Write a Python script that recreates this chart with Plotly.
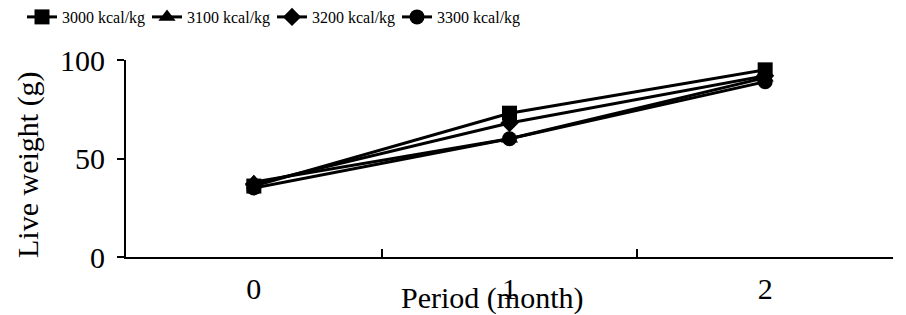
import plotly.graph_objects as go

periods = ["0", "1", "2"]
series_names = ["3000 kcal/kg", "3100 kcal/kg", "3200 kcal/kg", "3300 kcal/kg"]
v3000 = [36, 73, 95]
v3100 = [38, 60, 91]
v3200 = [37, 68, 92]
v3300 = [35, 60, 89]
y_ticks = [0, 50, 100]

symbols = ["square", "triangle-up", "diamond", "circle"]
sizes = [15, 15, 14, 15]
values = [v3000, v3100, v3200, v3300]

FONT = "Liberation Serif, Times New Roman, serif"

fig = go.Figure()
for name, vals, sym, sz in zip(series_names, values, symbols, sizes):
    fig.add_trace(go.Scatter(
        x=periods, y=vals, name=name, mode="lines+markers",
        line=dict(color="black", width=3),
        marker=dict(symbol=sym, size=sz, color="black"),
    ))

fig.update_layout(
    width=906, height=315,
    margin=dict(l=126, r=13, t=60, b=58, autoexpand=False),
    paper_bgcolor="white", plot_bgcolor="white",
    font=dict(family=FONT, color="black", size=30),
    showlegend=True,
    legend=dict(orientation="h", x=(22 - 126) / 767, xanchor="left",
                y=1 + (60 - 0) / 197, yanchor="top",
                font=dict(size=16, family=FONT), entrywidth=80,
                bgcolor="rgba(0,0,0,0)", itemwidth=30),
    xaxis=dict(type="category", range=[-0.5, 2.5], tickson="boundaries",
               ticks="inside", ticklen=8, tickwidth=1.5, tickcolor="black",
               showline=True, linecolor="black", linewidth=2,
               showgrid=False, zeroline=False, ticklabelstandoff=4,
               tickfont=dict(size=30, family=FONT)),
    yaxis=dict(range=[0, 100], tickvals=y_ticks, ticks="outside", ticklen=7,
               tickwidth=1.5, tickcolor="black",
               showline=True, linecolor="black", linewidth=2,
               showgrid=False, zeroline=False, ticklabelstandoff=6,
               tickfont=dict(size=30, family=FONT)),
    annotations=[
        dict(text="Period (month)", xref="paper", yref="paper",
             x=(492 - 126) / 767, y=(257 - 298) / 197,
             xanchor="center", yanchor="middle", showarrow=False,
             font=dict(size=30, family=FONT)),
        dict(text="Live weight (g)", xref="paper", yref="paper",
             x=(28 - 126) / 767, y=(257 - 165) / 197, textangle=-90,
             xanchor="center", yanchor="middle", showarrow=False,
             font=dict(size=30, family=FONT)),
    ],
)

fig.write_html("out.html", config={"displayModeBar": False},
               post_script="document.body.style.margin='0px';document.body.style.overflow='hidden';")
